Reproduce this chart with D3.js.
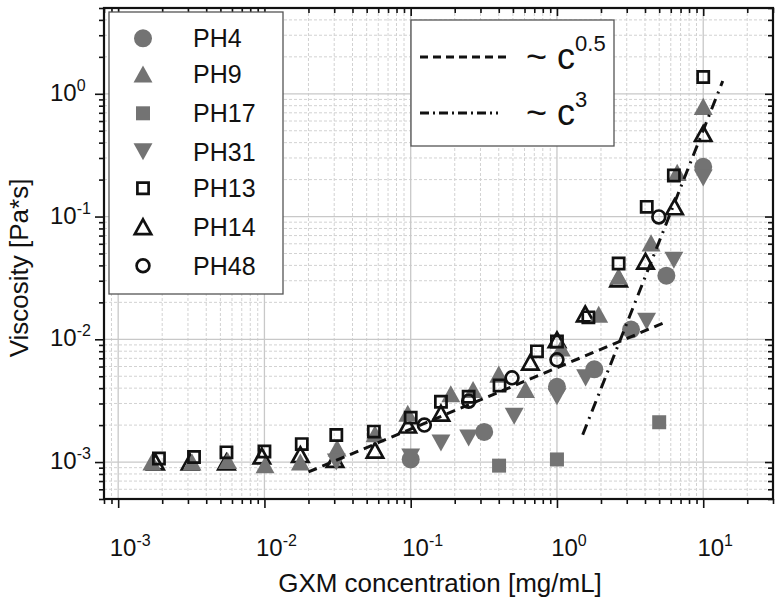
<!DOCTYPE html>
<html><head><meta charset="utf-8">
<script src="https://cdn.jsdelivr.net/npm/d3@7"></script>
<style>body{margin:0;background:#fff}svg{display:block;font-family:"Liberation Sans",Arial,sans-serif}</style>
</head><body><svg id="c" width="781" height="606"></svg>
<script>
// ---- data ----
const ph4X=[0.1,0.318,1.0,1.8,3.21,5.6,10];
const ph4Y=[1.05e-3,1.76e-3,4.1e-3,5.7e-3,0.012,0.033,0.254];
const ph9X=[0.0017,0.0032,0.0056,0.0101,0.0176,0.0314,0.057,0.0955,0.188,0.267,0.40,0.61,1.07,1.93,2.64,4.4,6.64,10];
const ph9Y=[1.0e-3,1.0e-3,1.03e-3,0.95e-3,1.0e-3,1.3e-3,1.7e-3,2.5e-3,3.6e-3,3.9e-3,5.2e-3,3.9e-3,8.5e-3,0.016,0.0326,0.061,0.229,0.79];
const ph17X=[0.402,1.0,5.0];
const ph17Y=[0.935e-3,1.05e-3,2.11e-3];
const ph31X=[0.031,0.1,0.161,0.249,0.51,1.0,1.57,4.1,6.3,10];
const ph31Y=[1.0e-3,1.1e-3,1.43e-3,1.57e-3,2.36e-3,3.4e-3,4.85e-3,0.014,0.044,0.206];
const ph13X=[0.0019,0.0033,0.0055,0.01,0.018,0.031,0.056,0.1,0.161,0.249,0.405,0.73,1.0,1.64,2.64,4.11,6.3,10];
const ph13Y=[1.07e-3,1.1e-3,1.2e-3,1.22e-3,1.4e-3,1.66e-3,1.77e-3,2.3e-3,3.1e-3,3.4e-3,4.2e-3,7.98e-3,9.6e-3,0.0151,0.0414,0.12,0.216,1.37];
const ph14X=[0.0018,0.0031,0.0055,0.0096,0.0176,0.0304,0.057,0.0955,0.161,0.658,1.0,1.56,2.64,4.03,6.37,10];
const ph14Y=[1.0e-3,1.0e-3,1.0e-3,1.12e-3,1.15e-3,1.05e-3,1.25e-3,2.0e-3,2.5e-3,6.5e-3,9.9e-3,0.0161,0.031,0.0432,0.12,0.474];
const ph48X=[0.124,0.249,0.493,1.0,4.97];
const ph48Y=[2.0e-3,3.13e-3,4.85e-3,6.8e-3,0.0993];
const fitHalfX=[0.02,5.7];
const fitHalfY=[8.3e-4,0.0140];
const fitCubeX=[1.5,13.6];
const fitCubeY=[1.67e-3,1.27];
const xMajor=[1e-3,1e-2,1e-1,1,10];
const xExp=["-3","-2","-1","0","1"];
const yMajor=[1e-3,1e-2,1e-1,1];
const yExp=["-3","-2","-1","0"];
const seriesNames=["PH4","PH9","PH17","PH31","PH13","PH14","PH48"];
const fitNames=["0.5","3"];

// ---- layout ----
const L=104,R=773,T=8,B=499;
const svg=d3.select("#c");
const x=d3.scaleLog().domain([8e-4,30]).range([L,R]);
const y=d3.scaleLog().domain([5e-4,5]).range([B,T]);
const GRAY="#737373";

function minors(lo,hi){const out=[];for(let e=-4;e<=2;e++){for(let m=1;m<=9;m++){const v=m*Math.pow(10,e);if(v>=lo*0.9999&&v<=hi*1.0001&&m!==1)out.push(v);}}return out;}
const xMinor=minors(8e-4,30), yMinor=minors(5e-4,5);

// grid
const g=svg.append("g");
g.selectAll(".xm").data(xMinor).join("line").attr("x1",d=>x(d)).attr("x2",d=>x(d)).attr("y1",T).attr("y2",B)
 .attr("stroke","#d2d2d2").attr("stroke-width",1).attr("stroke-dasharray","3,2");
g.selectAll(".ym").data(yMinor).join("line").attr("y1",d=>y(d)).attr("y2",d=>y(d)).attr("x1",L).attr("x2",R)
 .attr("stroke","#d2d2d2").attr("stroke-width",1).attr("stroke-dasharray","3,2");
g.selectAll(".xM").data(xMajor).join("line").attr("x1",d=>x(d)).attr("x2",d=>x(d)).attr("y1",T).attr("y2",B)
 .attr("stroke","#c8c8c8").attr("stroke-width",1.3);
g.selectAll(".yM").data(yMajor).join("line").attr("y1",d=>y(d)).attr("y2",d=>y(d)).attr("x1",L).attr("x2",R)
 .attr("stroke","#c8c8c8").attr("stroke-width",1.3);

// symbols
function sym(type,s){
  if(type==="circle"){return `M${s},0A${s},${s} 0 1,1 ${-s},0A${s},${s} 0 1,1 ${s},0Z`;}
  if(type==="square"){return `M${-s},${-s}H${s}V${s}H${-s}Z`;}
  if(type==="up"){const w=s*1.05,h=s*0.95;return `M0,${-h}L${w},${h}L${-w},${h}Z`;}
  if(type==="down"){const w=s*1.05,h=s*0.95;return `M0,${h}L${w},${-h}L${-w},${-h}Z`;}
}
const series=[
 {name:"PH14",xs:ph14X,ys:ph14Y,type:"up",s:7.8,fill:"none",stroke:"#111",sw:2.7},
 {name:"PH4",xs:ph4X,ys:ph4Y,type:"circle",s:9,fill:GRAY,stroke:"none",sw:0},
 {name:"PH9",xs:ph9X,ys:ph9Y,type:"up",s:9,fill:GRAY,stroke:"none",sw:0},
 {name:"PH17",xs:ph17X,ys:ph17Y,type:"square",s:7,fill:GRAY,stroke:"none",sw:0},
 {name:"PH31",xs:ph31X,ys:ph31Y,type:"down",s:9,fill:GRAY,stroke:"none",sw:0},
 {name:"PH13",xs:ph13X,ys:ph13Y,type:"square",s:5.6,fill:"none",stroke:"#111",sw:2.7},
 {name:"PH48",xs:ph48X,ys:ph48Y,type:"circle",s:6.4,fill:"none",stroke:"#111",sw:2.7}
];
const mg=svg.append("g");
series.forEach(sr=>{
  mg.append("g").selectAll("path").data(sr.xs.map((v,i)=>[v,sr.ys[i]])).join("path")
   .attr("d",sym(sr.type,sr.s)).attr("transform",d=>`translate(${x(d[0])},${y(d[1])})`)
   .attr("fill",sr.fill).attr("stroke",sr.stroke).attr("stroke-width",sr.sw).attr("stroke-linejoin","miter");
});

// fit lines
const line=d3.line().x(d=>x(d[0])).y(d=>y(d[1]));
svg.append("path").attr("d",line(fitHalfX.map((v,i)=>[v,fitHalfY[i]]))).attr("fill","none")
 .attr("stroke","#111").attr("stroke-width",3).attr("stroke-dasharray","9,6");
svg.append("path").attr("d",line(fitCubeX.map((v,i)=>[v,fitCubeY[i]]))).attr("fill","none")
 .attr("stroke","#111").attr("stroke-width",3).attr("stroke-dasharray","11,6,2,6");

// axes
function styleAxis(sel){sel.select(".domain").remove();sel.selectAll("line").attr("stroke","#111").attr("stroke-width",1.6);}
svg.append("g").attr("transform",`translate(0,${B})`).call(d3.axisBottom(x).tickValues(xMajor).tickSize(9).tickFormat("")).call(styleAxis);
svg.append("g").attr("transform",`translate(0,${B})`).call(d3.axisBottom(x).tickValues(xMinor).tickSize(5).tickFormat("")).call(styleAxis);
svg.append("g").attr("transform",`translate(0,${T})`).call(d3.axisTop(x).tickValues(xMajor).tickSize(-8).tickFormat("")).call(styleAxis);
svg.append("g").attr("transform",`translate(0,${T})`).call(d3.axisTop(x).tickValues(xMinor).tickSize(-5).tickFormat("")).call(styleAxis);
svg.append("g").attr("transform",`translate(${L},0)`).call(d3.axisLeft(y).tickValues(yMajor).tickSize(9).tickFormat("")).call(styleAxis);
svg.append("g").attr("transform",`translate(${L},0)`).call(d3.axisLeft(y).tickValues(yMinor).tickSize(5).tickFormat("")).call(styleAxis);
svg.append("g").attr("transform",`translate(${R},0)`).call(d3.axisRight(y).tickValues(yMajor).tickSize(-8).tickFormat("")).call(styleAxis);
svg.append("g").attr("transform",`translate(${R},0)`).call(d3.axisRight(y).tickValues(yMinor).tickSize(-5).tickFormat("")).call(styleAxis);
svg.append("rect").attr("x",L).attr("y",T).attr("width",R-L).attr("height",B-T).attr("fill","none").attr("stroke","#111").attr("stroke-width",2.2);

// tick labels
xMajor.forEach((v,i)=>{
  const t=svg.append("text").attr("x",x(v)+12).attr("y",556).attr("text-anchor","middle").attr("font-size",24).attr("fill","#111");
  t.append("tspan").text("10");
  t.append("tspan").attr("dy",-10).attr("font-size",16).text(xExp[i]);
});
yMajor.forEach((v,i)=>{
  const t=svg.append("text").attr("x",50).attr("y",y(v)+7).attr("font-size",24).attr("fill","#111");
  t.append("tspan").text("10");
  t.append("tspan").attr("dy",-10).attr("font-size",16).text(yExp[i]);
});
svg.append("text").attr("x",440).attr("y",592).attr("text-anchor","middle").attr("font-size",26).attr("fill","#111").text("GXM concentration [mg/mL]");
svg.append("text").attr("transform","translate(28,268) rotate(-90)").attr("text-anchor","middle").attr("font-size",26).attr("fill","#111").text("Viscosity [Pa*s]");

// legend 1
svg.append("rect").attr("x",109).attr("y",12).attr("width",174).attr("height",282).attr("fill","#fff").attr("stroke","#555").attr("stroke-width",1.3);
const legRows=[38.3,74,113.3,151.7,188.3,226.7,265.7];
const legStyle={"PH4":series[1],"PH9":series[2],"PH17":series[3],"PH31":series[4],"PH13":series[5],"PH14":series[0],"PH48":series[6]};
seriesNames.forEach((n,i)=>{
  const sr=legStyle[n];
  svg.append("path").attr("d",sym(sr.type,sr.s)).attr("transform",`translate(143,${legRows[i]})`)
   .attr("fill",sr.fill).attr("stroke",sr.stroke).attr("stroke-width",sr.sw);
  svg.append("text").attr("x",193).attr("y",legRows[i]+9).attr("font-size",25).attr("fill","#111").text(n);
});

// legend 2
svg.append("rect").attr("x",411).attr("y",20).attr("width",203).attr("height",126).attr("fill","#fff").attr("stroke","#555").attr("stroke-width",1.3);
svg.append("line").attr("x1",420).attr("x2",508).attr("y1",57).attr("y2",57).attr("stroke","#111").attr("stroke-width",3).attr("stroke-dasharray","8,5");
svg.append("line").attr("x1",420).attr("x2",498).attr("y1",113).attr("y2",113).attr("stroke","#111").attr("stroke-width",3).attr("stroke-dasharray","9,4,2,4");
[[57,fitNames[0]],[113,fitNames[1]]].forEach(([yy,e])=>{
  const t=svg.append("text").attr("x",526).attr("y",yy+12).attr("font-size",36).attr("fill","#111");
  t.append("tspan").text("~ c");
  t.append("tspan").attr("dy",-18).attr("font-size",22).text(e);
});
</script></body></html>
